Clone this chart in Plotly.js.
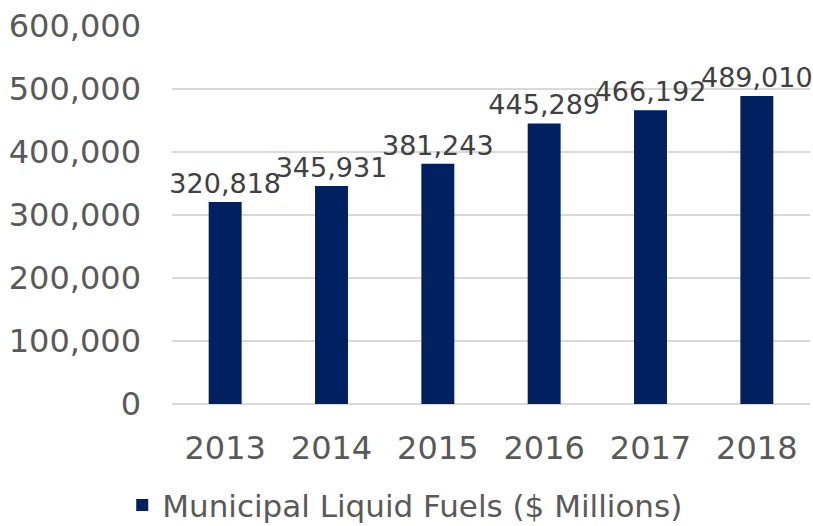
<!DOCTYPE html>
<html>
<head>
<meta charset="utf-8">
<script src="https://cdn.plot.ly/plotly-3.0.1.min.js"></script>
<style>html,body{margin:0;padding:0;background:#fff;}#chart{width:813px;height:526px;}</style>
</head>
<body>
<div id="chart"></div>
<script>
const years = ['2013', '2014', '2015', '2016', '2017', '2018'];
const values = [320818, 345931, 381243, 445289, 466192, 489010];
const seriesName = 'Municipal Liquid Fuels ($ Millions)';
const yTicks = [0, 100000, 200000, 300000, 400000, 500000, 600000];

const trace = {
  type: 'bar',
  x: years,
  y: values,
  name: seriesName,
  marker: {color: '#002060'},
  width: 0.31,
  text: values.map(v => v.toLocaleString('en-US')),
  textposition: 'outside',
  constraintext: 'none',
  textfont: {family: 'DejaVu Sans', size: 27, color: '#404040'},
  cliponaxis: false,
  showlegend: true,
  hoverinfo: 'none'
};

const layout = {
  width: 813,
  height: 526,
  margin: {l: 172, r: 3, t: 26, b: 122, autoexpand: false},
  paper_bgcolor: '#ffffff',
  plot_bgcolor: '#ffffff',
  font: {family: 'DejaVu Sans', color: '#595959'},
  xaxis: {
    type: 'category',
    automargin: false,
    tickfont: {size: 32, color: '#595959'},
    showgrid: false,
    showline: false,
    ticks: '',
    ticklabelstandoff: 22
  },
  yaxis: {
    range: [0, 600000],
    automargin: false,
    tickvals: yTicks,
    ticktext: yTicks.map(v => v.toLocaleString('en-US')),
    tickfont: {size: 32, color: '#595959'},
    gridcolor: '#d9d9d9',
    gridwidth: 1.3,
    zeroline: true,
    zerolinecolor: '#d9d9d9',
    zerolinewidth: 1.5,
    showline: false,
    ticks: '',
    ticklabelstandoff: 30
  },
  showlegend: true,
  legend: {
    orientation: 'h',
    x: -0.078,
    xanchor: 'left',
    y: -0.268,
    yanchor: 'middle',
    font: {size: 31, color: '#595959'},
    itemwidth: 30
  },
  bargap: 0.69
};

Plotly.newPlot('chart', [trace], layout, {staticPlot: true, displayModeBar: false});
</script>
</body>
</html>
